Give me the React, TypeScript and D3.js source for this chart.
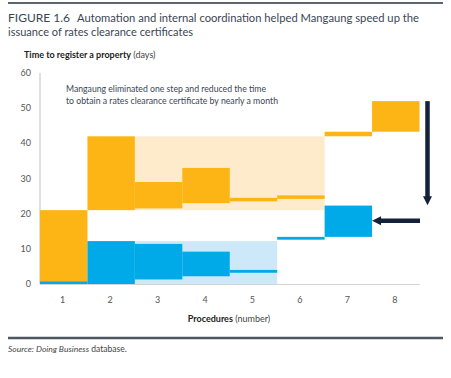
import React from "react";
import * as d3 from "d3";

const procedures = [1, 2, 3, 4, 5, 6, 7, 8];
const beforeLow = [0, 21, 21.5, 23, 23.5, 24.2, 42, 43.3];
const beforeHigh = [21, 42, 29, 33, 24.5, 25.2, 43.3, 52];
const afterLow: (number | null)[] = [0, 0, 1.3, 2.2, 3.2, 12.6, 13.4, null];
const afterHigh: (number | null)[] = [0.7, 12.2, 11.4, 9.2, 4.0, 13.4, 22.3, null];
const yTicks = [0, 10, 20, 30, 40, 50, 60];

// shaded regions [fromProc, toProc, low, high]
const beforeShade = { from: 3, to: 6, low: 21, high: 42 };
const afterShade = { from: 3, to: 5, low: 0, high: 12.2 };
// arrows
const downArrow = { from: 52, to: 22.4 };
const leftArrowValue = 18;

const W = 451;
const H = 378;
const ORANGE = "#FDB515";
const PALE_ORANGE = "#FDEBCC";
const BLUE = "#00A9E8";
const PALE_BLUE = "#CDE8F8";
const NAVY = "#14213A";
const TEXT = "#3b4654";
const FONT = "Lato, 'Open Sans', sans-serif";

export default function App() {
  const x = d3.scaleBand<number>().domain(procedures).range([40, 419.5]).paddingInner(0).paddingOuter(0);
  const y = d3.scaleLinear().domain([0, 60]).range([284, 73]);
  const bw = x.bandwidth();

  const shadeRect = (s: { from: number; to: number; low: number; high: number }, fill: string) => (
    <rect
      x={x(s.from)!}
      y={y(s.high)}
      width={x(s.to)! + bw - x(s.from)!}
      height={y(s.low) - y(s.high)}
      fill={fill}
    />
  );

  const vx = x(8)! + bw + 8;
  const ay = y(leftArrowValue);
  const aStart = 420;
  const aEnd = x(7)! + bw;

  return (
    <svg width={W} height={H} style={{ display: "block", position: "absolute", left: 0, top: 0 }} fontFamily={FONT}>
      <rect width={W} height={H} fill="#fff" />
      <line x1={8} x2={443} y1={3} y2={3} stroke="#5c6670" strokeWidth={2} />
      <text x={8} y={22} fontSize={12} fill={TEXT}>
        <tspan>FIGURE 1.6</tspan>
      </text>
      <text x={77} y={22} fontSize={12} fill={TEXT} textLength={342} lengthAdjust="spacingAndGlyphs">
        Automation and internal coordination helped Mangaung speed up the
      </text>
      <text x={8} y={36} fontSize={12} fill={TEXT} textLength={185} lengthAdjust="spacingAndGlyphs">
        issuance of rates clearance certificates
      </text>

      <text x={24} y={58} fontSize={9} fill="#222">
        <tspan fontWeight="bold">Time to register a property</tspan>
        <tspan fill="#444"> (days)</tspan>
      </text>

      {/* shaded regions */}
      {shadeRect(beforeShade, PALE_ORANGE)}
      {shadeRect(afterShade, PALE_BLUE)}

      {/* axes lines */}
      <line x1={40} x2={40} y1={y(60)} y2={y(0)} stroke="#d4d4d4" strokeWidth={1.5} />
      <line x1={40} x2={420} y1={y(0) + 0.5} y2={y(0) + 0.5} stroke="#d4d4d4" strokeWidth={1.2} />

      {/* before bars */}
      {procedures.map((p, i) => (
        <rect
          key={"b" + p}
          x={x(p)!}
          y={y(beforeHigh[i])}
          width={bw}
          height={y(beforeLow[i]) - y(beforeHigh[i])}
          fill={ORANGE}
        />
      ))}
      {/* after bars */}
      {procedures.map((p, i) =>
        afterLow[i] == null ? null : (
          <rect
            key={"a" + p}
            x={x(p)!}
            y={y(afterHigh[i] as number)}
            width={bw}
            height={y(afterLow[i] as number) - y(afterHigh[i] as number)}
            fill={BLUE}
          />
        )
      )}

      {/* y ticks */}
      {yTicks.map((t) => (
        <text key={t} x={31} y={y(t)} dy="0.35em" textAnchor="end" fontSize={9} fill="#555">
          {t}
        </text>
      ))}
      {/* x ticks */}
      {procedures.map((p) => (
        <text key={"x" + p} x={x(p)! + bw / 2 - 1} y={300} dy="0.35em" textAnchor="middle" fontSize={9} fill="#555">
          {p}
        </text>
      ))}
      <text x={229} y={322} textAnchor="middle" fontSize={9} fill="#222">
        <tspan fontWeight="bold">Procedures</tspan>
        <tspan fill="#444"> (number)</tspan>
      </text>

      {/* annotation */}
      <text x={66} y={92} fontSize={9.5} fill={TEXT} textLength={200} lengthAdjust="spacingAndGlyphs">
        Mangaung eliminated one step and reduced the time
      </text>
      <text x={66} y={104} fontSize={9.5} fill={TEXT} textLength={212} lengthAdjust="spacingAndGlyphs">
        to obtain a rates clearance certificate by nearly a month
      </text>

      {/* arrows */}
      <line x1={vx} x2={vx} y1={y(downArrow.from)} y2={y(downArrow.to) - 7} stroke={NAVY} strokeWidth={4.5} />
      <polygon
        points={`${vx - 4.5},${y(downArrow.to) - 9} ${vx + 4.5},${y(downArrow.to) - 9} ${vx},${y(downArrow.to)}`}
        fill={NAVY}
      />
      <line x1={aStart} x2={aEnd + 8} y1={ay} y2={ay} stroke={NAVY} strokeWidth={4.5} />
      <polygon
        points={`${aEnd + 9},${ay - 4.5} ${aEnd + 9},${ay + 4.5} ${aEnd},${ay}`}
        fill={NAVY}
      />

      <line x1={8} x2={443} y1={338} y2={338} stroke="#4d5762" strokeWidth={2.5} />
      <text x={8} y={352} fontSize={8.5} fill="#444">
        <tspan fontStyle="italic">Source: Doing Business</tspan>
        <tspan> database.</tspan>
      </text>
    </svg>
  );
}
